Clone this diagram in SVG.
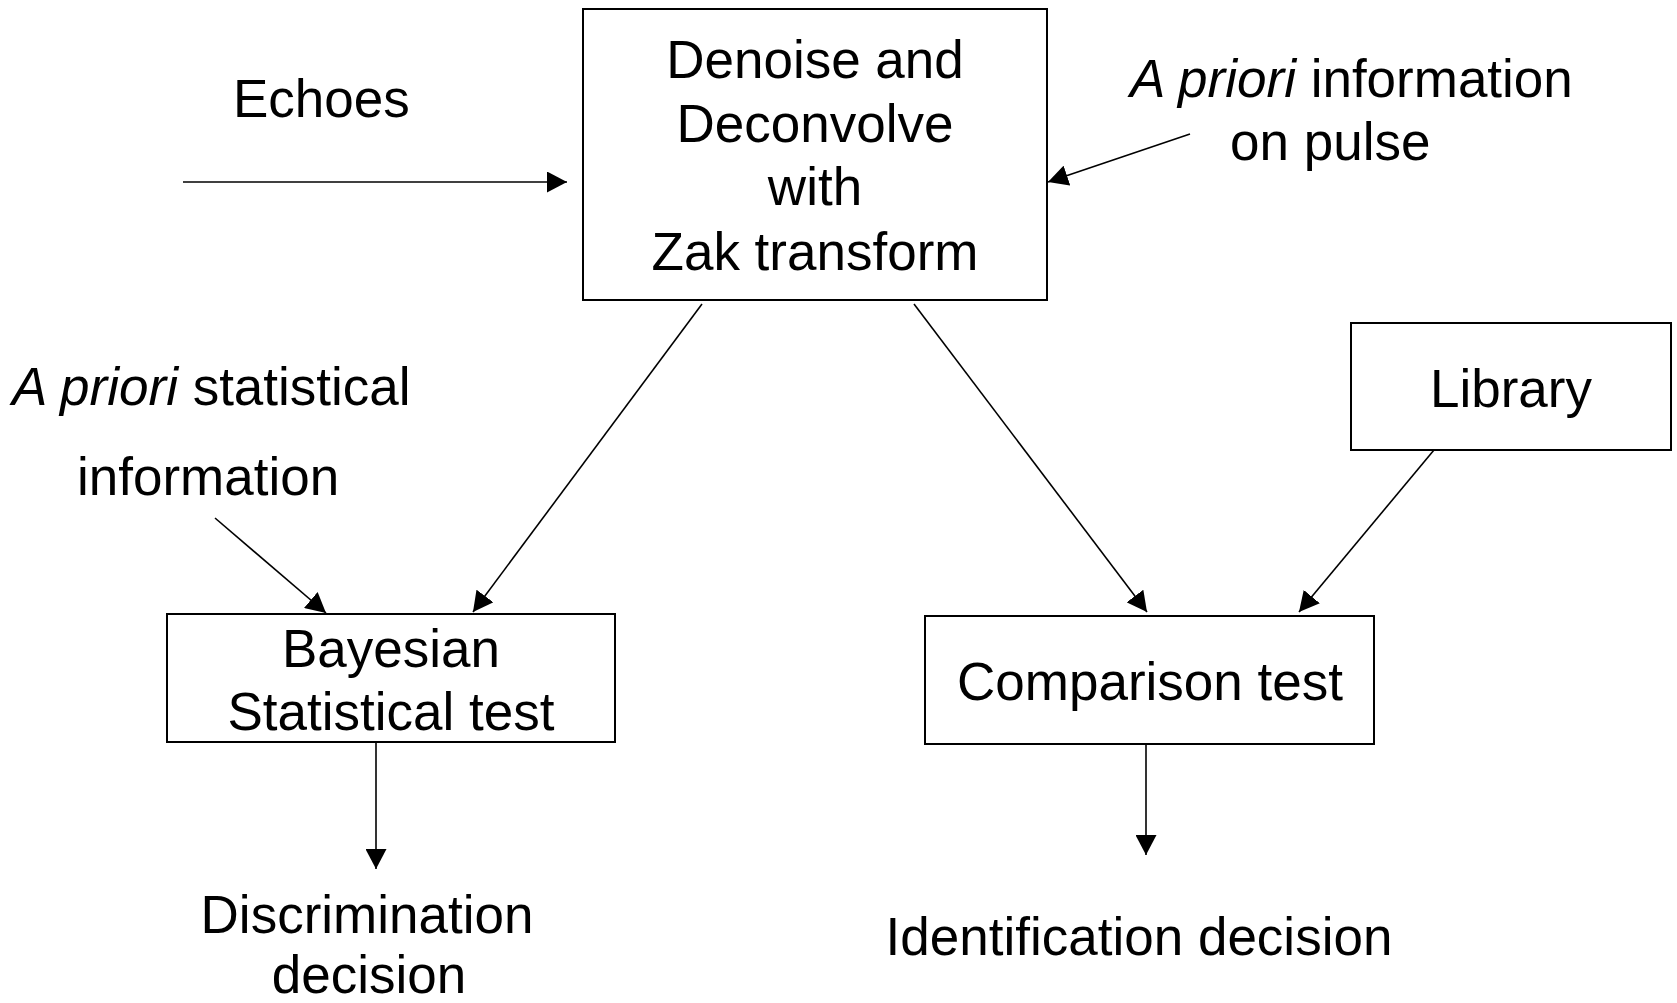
<svg xmlns="http://www.w3.org/2000/svg" width="1677" height="1003" viewBox="0 0 1677 1003">
  <style>
    .box { fill: #ffffff; stroke: #000000; stroke-width: 2; }
    .lbl { font-family: "Liberation Sans", Arial, sans-serif; font-size: 53px; fill: #000000; }
    .c { text-anchor: middle; }
    .it { font-style: italic; }
    .edge { stroke: #000000; stroke-width: 1.6; fill: none; marker-end: url(#arrow); }
  </style>
  <defs>
    <marker id="arrow" markerUnits="userSpaceOnUse" markerWidth="21" markerHeight="21" refX="20" refY="10.5" orient="auto">
      <path d="M0,0 L20,10.5 L0,21 z" fill="#000000"/>
    </marker>
  </defs>
  <rect width="1677" height="1003" fill="#ffffff"/>

  <g id="connectors">
    <line class="edge" x1="183" y1="182" x2="567" y2="182"/>
    <line class="edge" x1="1190" y1="134" x2="1048" y2="182"/>
    <line class="edge" x1="702" y1="304" x2="473" y2="612"/>
    <line class="edge" x1="215" y1="518" x2="326" y2="613"/>
    <line class="edge" x1="914" y1="304" x2="1147" y2="612"/>
    <line class="edge" x1="1434" y1="450" x2="1299" y2="612"/>
    <line class="edge" x1="376" y1="742" x2="376" y2="869"/>
    <line class="edge" x1="1146" y1="744" x2="1146" y2="855"/>
  </g>

  <g id="echoes">
    <text class="lbl" x="233" y="117">Echoes</text>
  </g>

  <g id="denoise">
    <rect class="box" x="583" y="9" width="464" height="291"/>
    <text class="lbl c" x="815" y="78">Denoise and</text>
    <text class="lbl c" x="815" y="142">Deconvolve</text>
    <text class="lbl c" x="815" y="205">with</text>
    <text class="lbl c" x="815" y="270">Zak transform</text>
  </g>

  <g id="apriori-pulse">
    <text class="lbl" x="1130" y="97"><tspan class="it">A priori</tspan> information</text>
    <text class="lbl" x="1230" y="160">on pulse</text>
  </g>

  <g id="apriori-stat">
    <text class="lbl" x="12" y="405"><tspan class="it">A priori</tspan> statistical</text>
    <text class="lbl" x="77" y="495">information</text>
  </g>

  <g id="library">
    <rect class="box" x="1351" y="323" width="320" height="127"/>
    <text class="lbl c" x="1511" y="407">Library</text>
  </g>

  <g id="bayesian">
    <rect class="box" x="167" y="614" width="448" height="128"/>
    <text class="lbl c" x="391" y="667">Bayesian</text>
    <text class="lbl c" x="391" y="730">Statistical test</text>
  </g>

  <g id="comparison">
    <rect class="box" x="925" y="616" width="449" height="128"/>
    <text class="lbl c" x="1150" y="700">Comparison test</text>
  </g>

  <g id="discrimination">
    <text class="lbl c" x="367" y="933">Discrimination</text>
    <text class="lbl c" x="369" y="993">decision</text>
  </g>

  <g id="identification">
    <text class="lbl c" x="1139" y="955">Identification decision</text>
  </g>
</svg>
